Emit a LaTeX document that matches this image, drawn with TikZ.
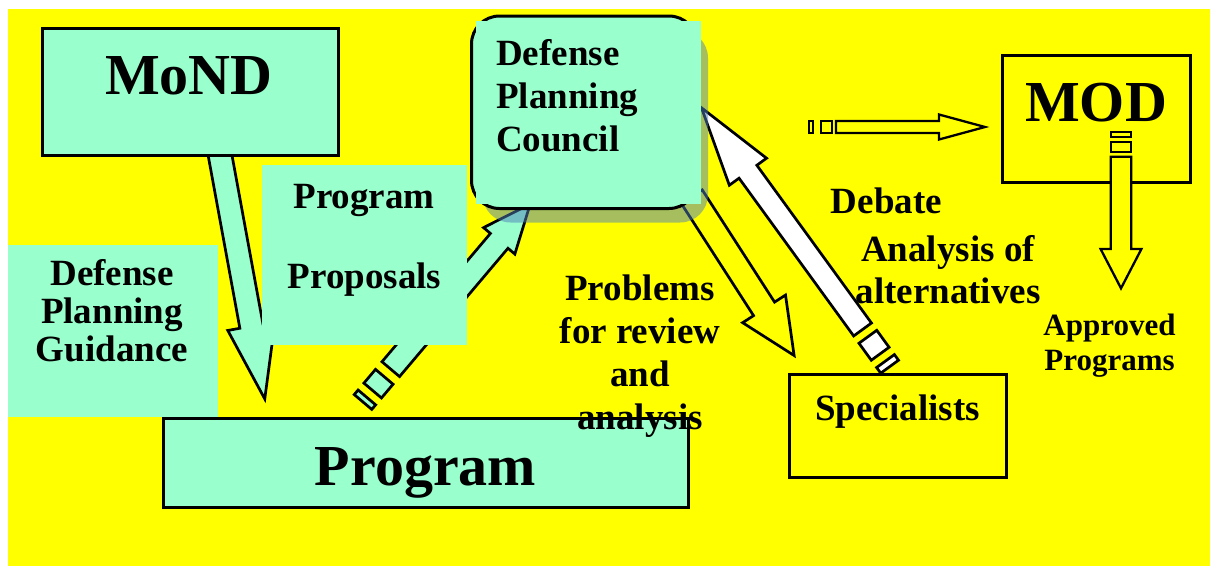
\documentclass[tikz,border=0pt]{standalone}
\usepackage{fontspec}
\setmainfont{Liberation Serif}
\definecolor{tealfill}{RGB}{153,255,204}
\definecolor{bgyellow}{RGB}{255,255,0}
\definecolor{shadowblue}{RGB}{78,127,186}
% block arrow outline in a local frame: shaft from #1 to #2, tip at #3, shaft half width #4, head half width #5
\newcommand\arrowshape[5]{(#1,-#4) -- (#2,-#4) -- (#2,-#5) -- (#3,0) -- (#2,#5) -- (#2,#4) -- (#1,#4) -- cycle}
\begin{document}
\begin{tikzpicture}[x=1pt,y=-1pt,
  boxline/.style={draw=black, line width=3pt},
  arrowline/.style={draw=black, line width=2.7pt, line join=miter},
  thinarrow/.style={draw=black, line width=2.3pt, line join=miter},
  lbl/.style={inner sep=0pt, anchor=base, font=\bfseries\fontsize{37}{43}\selectfont},
  lblleft/.style={lbl, anchor=base west},
  biglbl/.style={inner sep=0pt, anchor=base, font=\bfseries\fontsize{58}{64}\selectfont},
  smalllbl/.style={inner sep=0pt, anchor=base, font=\bfseries\fontsize{31}{35}\selectfont},
  plainbox/.style={inner sep=0pt, anchor=north west, outer sep=0pt}]
\useasboundingbox (0,0) rectangle (1218,571);
% background
\fill[bgyellow] (8,9) rectangle (1210,566);

% named anchor points for the block arrows
\coordinate (mondTail) at (220,155);
\coordinate (ppTail) at (363,402);
\coordinate (debTail) at (889.6,366.7);
\coordinate (probTail) at (695,201.7);
\coordinate (modRTail) at (809,127);
\coordinate (modDTail) at (1121,131.7);

% MoND arrow (down to Program)
\begin{scope}[shift={(mondTail)}, rotate=-79.6]
  \draw[arrowline, fill=tealfill] \arrowshape{-12}{174}{248}{11.75}{24};
\end{scope}
% MoND box
\node[plainbox, boxline, fill=tealfill, minimum width=296pt, minimum height=127pt] (mond) at (42,28) {};

% Defense Planning Guidance box
\node[plainbox, fill=tealfill, minimum width=210pt, minimum height=172pt] (dpg) at (8,245) {};

% Program Proposals arrow (Program -> Council)
\begin{scope}[shift={(ppTail)}, rotate=49.8]
  \draw[arrowline, fill=tealfill] (0,-11.5) rectangle (6,11.5);
  \draw[arrowline, fill=tealfill] (15,-11.5) rectangle (33,11.5);
  \draw[arrowline, fill=tealfill] \arrowshape{43}{211}{259}{11.5}{20.5};
\end{scope}

% Debate arrow (Specialists -> Council), white
\begin{scope}[shift={(debTail)}, rotate=126]
  \draw[arrowline, fill=white] (0,-11) rectangle (7,11);
  \draw[arrowline, fill=white] (16,-11) rectangle (37,11);
  \draw[arrowline, fill=white] \arrowshape{46}{241}{320}{11}{23};
\end{scope}

% Problems arrow (Council -> Specialists), hollow
\begin{scope}[shift={(probTail)}, rotate=-57.2]
  \draw[arrowline, fill=bgyellow] \arrowshape{-6}{127.5}{183}{12.5}{25.5};
\end{scope}

% Defense Planning Council: shadow, rounded frame, text panel
\node[plainbox, fill=shadowblue, fill opacity=0.5, rounded corners=28pt, minimum width=225.5pt, minimum height=192.5pt] (dpcshadow) at (482.5,30) {};
\node[plainbox, boxline, fill=tealfill, rounded corners=28pt, minimum width=225.5pt, minimum height=192.5pt] (dpc) at (471.5,16) {};
\node[plainbox, fill=tealfill, minimum width=224.7pt, minimum height=183pt] (dpcpanel) at (476,21) {};

% Program Proposals box
\node[plainbox, fill=tealfill, minimum width=205pt, minimum height=180pt] (pp) at (262,165) {};

% Program box
\node[plainbox, fill=black, minimum width=525pt, minimum height=89pt] (progshadow) at (165,420) {};
\node[plainbox, boxline, fill=tealfill, minimum width=525pt, minimum height=89pt] (prog) at (163,418) {};

% Specialists box
\node[plainbox, fill=black, minimum width=217pt, minimum height=103pt] (specshadow) at (790.5,375.5) {};
\node[plainbox, boxline, fill=bgyellow, minimum width=217pt, minimum height=103pt] (spec) at (789,374) {};

% MOD box
\node[plainbox, boxline, minimum width=188pt, minimum height=127pt] (mod) at (1002,55) {};

% arrow into MOD
\begin{scope}[shift={(modRTail)}]
  \draw[thinarrow, fill=bgyellow] (0,-6) rectangle (4,6);
  \draw[thinarrow, fill=bgyellow] (12,-6) rectangle (23,6);
  \draw[thinarrow, fill=bgyellow] \arrowshape{27}{130}{176}{6}{12.5};
\end{scope}
% arrow out of MOD (Approved Programs)
\begin{scope}[shift={(modDTail)}, rotate=-90]
  \draw[thinarrow, fill=bgyellow] (0,-10.3) rectangle (5,10.3);
  \draw[thinarrow, fill=bgyellow] (10,-10.3) rectangle (20,10.3);
  \draw[thinarrow, fill=bgyellow] \arrowshape{25}{117.3}{156.6}{10.3}{20.4};
\end{scope}

% texts
\node[biglbl] (tmond) at (189,94) {MoND};
\node[biglbl] (tmod) at (1096,121) {MOD};
\node[biglbl] (tprog) at (425.5,485) {Program};

\node[lblleft] (tdpc1) at (496,65) {Defense};
\node[lblleft] (tdpc2) at (496,108.3) {Planning};
\node[lblleft] (tdpc3) at (496,151.6) {Council};

\node[lbl] (tdpg1) at (112,285) {Defense};
\node[lbl] (tdpg2) at (112,323.3) {Planning};
\node[lbl] (tdpg3) at (112,361.6) {Guidance};

\node[lbl] (tpp1) at (364,208.3) {Program};
\node[lbl] (tpp2) at (364.5,288.3) {Proposals};

\node[lbl] (tprob1) at (640,300) {Problems};
\node[lbl] (tprob2) at (640,343) {for review};
\node[lbl] (tprob3) at (640,386) {and};
\node[lbl] (tprob4) at (640,429) {analysis};

\node[lblleft] (tdeb) at (830.7,213) {Debate};
\node[lbl] (tana1) at (948,261.7) {Analysis of};
\node[lbl] (tana2) at (948,303.3) {alternatives};

\node[lbl] (tspec) at (897.5,420) {Specialists};

\node[smalllbl] (tapp1) at (1109.5,335) {Approved};
\node[smalllbl] (tapp2) at (1109.5,370) {Programs};
\end{tikzpicture}
\end{document}
